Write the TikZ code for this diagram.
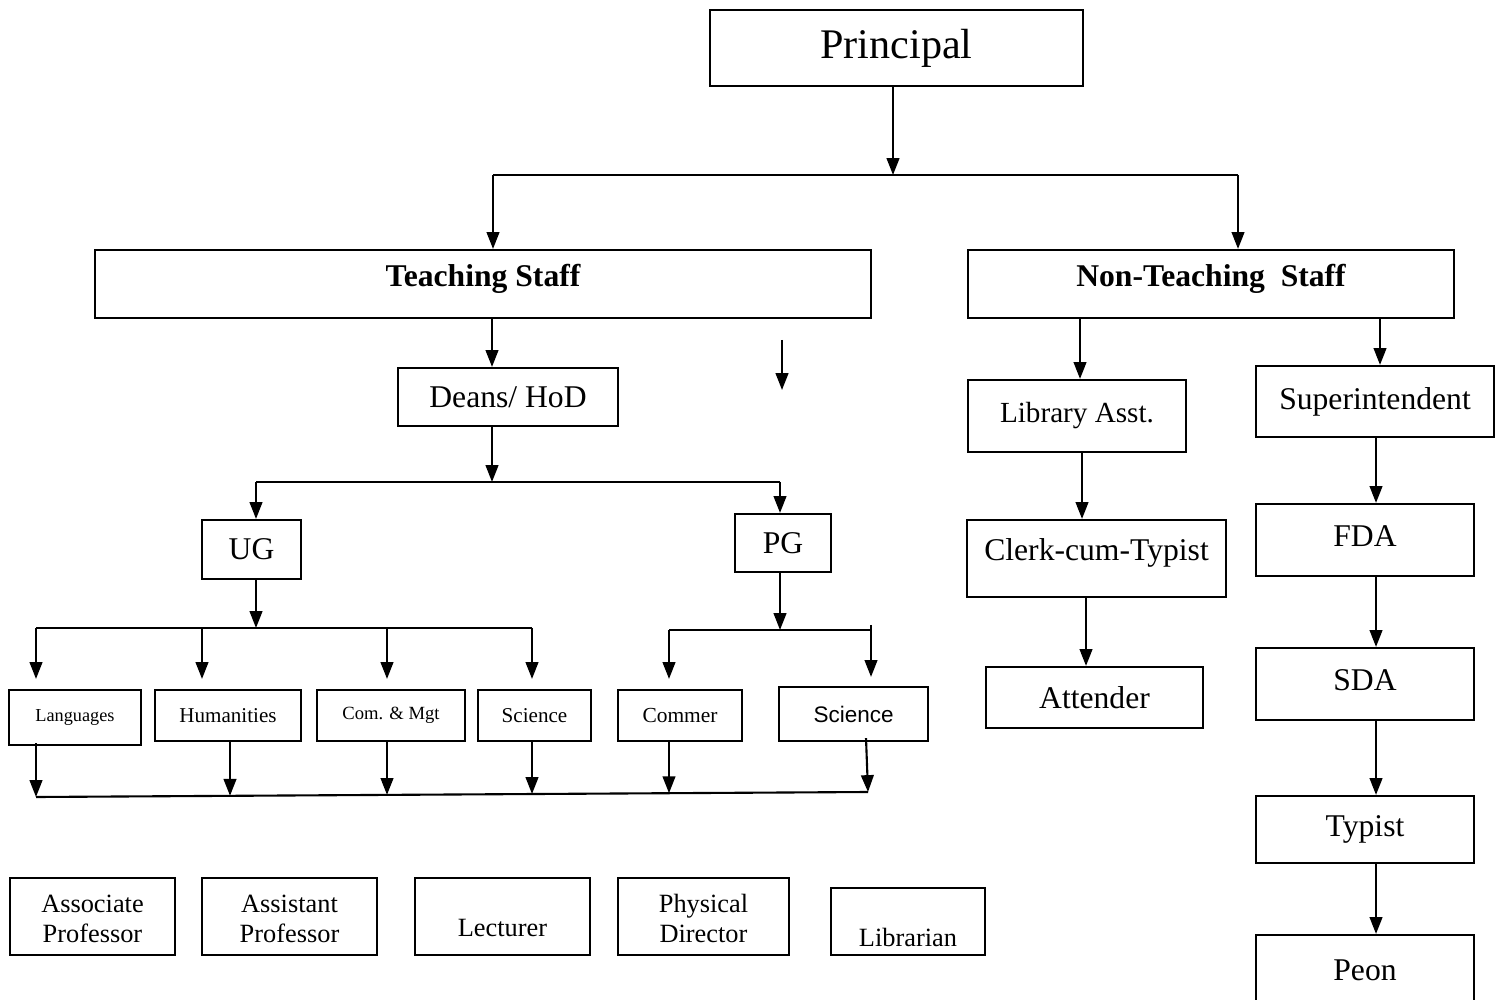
\documentclass[tikz,border=0pt]{standalone}
\usepackage{fontspec}
\setmainfont{Liberation Serif}
\newfontfamily\arialfont{Liberation Sans}
\usetikzlibrary{arrows.meta}

\newcommand{\postlines}[2]{\raisebox{-0.11cm}[0pt][0pt]{\begin{tabular}{@{}c@{}}#1\\#2\end{tabular}}}

\begin{document}
\begin{tikzpicture}[
    box/.style={draw, line width=0.6pt, inner sep=0pt, align=center, font=\fontsize{9}{10.5}\selectfont},
    small/.style={font=\fontsize{7.5}{8.6}\selectfont},
    arr/.style={line width=0.6pt, -{Triangle[width=3.6pt,length=4.8pt]}},
    wire/.style={line width=0.6pt}
  ]
    \useasboundingbox (0,0) rectangle (15.05,-10);

    % Head of the college
    \node[box, minimum width=3.73cm, minimum height=0.76cm, font=\fontsize{12}{14}\selectfont] (principal) at (8.965,-0.48) {Principal};

    % Two staff groups
    \node[box, minimum width=7.76cm, minimum height=0.68cm, font=\fontsize{9}{10.5}\selectfont\bfseries] (teach) at (4.83,-2.84) {\raisebox{-0.03cm}[0pt][0pt]{Teaching Staff}};
    \node[box, minimum width=4.86cm, minimum height=0.68cm, font=\fontsize{9}{10.5}\selectfont\bfseries] (nonteach) at (12.11,-2.84) {\raisebox{-0.03cm}[0pt][0pt]{Non-Teaching\ \ Staff}};

    % Teaching side
    \node[box, minimum width=2.20cm, minimum height=0.58cm] (deans) at (5.08,-3.97) {Deans/ HoD};
    \node[box, minimum width=0.99cm, minimum height=0.59cm] (ug) at (2.515,-5.495) {UG};
    \node[box, minimum width=0.96cm, minimum height=0.58cm] (pg) at (7.83,-5.43) {PG};

    % Departments
    \node[box, minimum width=1.32cm, minimum height=0.55cm, font=\fontsize{5.2}{6}\selectfont] (lang) at (0.75,-7.175) {Languages};
    \node[box, minimum width=1.46cm, minimum height=0.51cm, font=\fontsize{6}{7}\selectfont] (hum) at (2.28,-7.155) {Humanities};
    \node[box, minimum width=1.48cm, minimum height=0.51cm, font=\fontsize{5.3}{6}\selectfont] (com) at (3.91,-7.155) {Com. \& Mgt};
    \node[box, minimum width=1.13cm, minimum height=0.51cm, font=\fontsize{6}{7}\selectfont] (sciug) at (5.345,-7.155) {Science};
    \node[box, minimum width=1.24cm, minimum height=0.51cm, font=\fontsize{6.1}{7}\selectfont] (commer) at (6.80,-7.155) {Commer};
    \node[box, minimum width=1.49cm, minimum height=0.54cm, font=\fontsize{6.4}{7.5}\arialfont] (scipg) at (8.535,-7.14) {Science};

    % Teaching posts
    \node[box, small, minimum width=1.65cm, minimum height=0.77cm] (assoc) at (0.925,-9.165) {\postlines{Associate}{Professor}};
    \node[box, small, minimum width=1.75cm, minimum height=0.77cm] (assist) at (2.895,-9.165) {\postlines{Assistant}{Professor}};
    \node[box, small, minimum width=1.75cm, minimum height=0.77cm] (lect) at (5.025,-9.165) {\raisebox{-0.2cm}[0pt][0pt]{Lecturer}};
    \node[box, small, minimum width=1.71cm, minimum height=0.77cm] (phys) at (7.035,-9.165) {\postlines{Physical}{Director}};
    \node[box, small, minimum width=1.54cm, minimum height=0.67cm] (libr) at (9.08,-9.215) {\raisebox{-0.25cm}[0pt][0pt]{Librarian}};

    % Non-teaching side
    \node[box, minimum width=2.18cm, minimum height=0.72cm, font=\fontsize{8.3}{10}\selectfont] (libasst) at (10.77,-4.16) {Library Asst.};
    \node[box, minimum width=2.59cm, minimum height=0.77cm] (clerk) at (10.965,-5.585) {\raisebox{-0.02cm}[0pt][0pt]{Clerk-cum-Typist}};
    \node[box, minimum width=2.17cm, minimum height=0.61cm] (attend) at (10.945,-6.975) {Attender};
    \node[box, minimum width=2.38cm, minimum height=0.71cm] (super) at (13.75,-4.015) {Superintendent};
    \node[box, minimum width=2.18cm, minimum height=0.72cm] (fda) at (13.65,-5.40) {\raisebox{0.5ex}{FDA}};
    \node[box, minimum width=2.18cm, minimum height=0.72cm] (sda) at (13.65,-6.84) {\raisebox{0.5ex}{SDA}};
    \node[box, minimum width=2.18cm, minimum height=0.67cm] (typist) at (13.65,-8.295) {Typist};
    \node[box, minimum width=2.18cm, minimum height=0.70cm] (peon) at (13.65,-9.70) {Peon};

    % Junction points
    \coordinate (tj) at (8.93,-1.75);
    \coordinate (t1) at (4.93,-1.75);
    \coordinate (t2) at (12.38,-1.75);
    \coordinate (dx) at (4.92,0);
    \coordinate (dj) at (4.92,-4.82);
    \coordinate (d1) at (2.56,-4.82);
    \coordinate (d2) at (7.80,-4.82);
    \coordinate (uj) at (2.56,-6.28);
    \coordinate (pj) at (7.80,-6.30);
    \coordinate (p1) at (6.69,-6.30);
    \coordinate (p2) at (8.71,-6.30);
    \coordinate (s1) at (7.82,-3.40);
    \coordinate (s2) at (7.82,-3.90);

    % Principal to staff groups
    \draw[arr] (principal.south -| tj) -- (tj);
    \draw[wire] (t1) -- (t2);
    \draw[arr] (t1) -- (teach.north -| t1);
    \draw[arr] (t2) -- (nonteach.north -| t2);

    % Teaching staff to UG and PG
    \draw[arr] (teach.south -| dx) -- (deans.north -| dx);
    \draw[arr] (s1) -- (s2);
    \draw[arr] (deans.south -| dj) -- (dj);
    \draw[wire] (d1) -- (d2);
    \draw[arr] (d1) -- (ug.north -| d1);
    \draw[arr] (d2) -- (pg.north -| d2);

    % UG departments
    \draw[arr] (ug.south -| uj) -- (uj);
    \draw[wire] (0.36,-6.28) coordinate (u1) -- (5.32,-6.28) coordinate (u4);
    \foreach \x/\dept in {0.36/lang, 2.02/hum, 3.87/com, 5.32/sciug} {
        \draw[arr, shorten >=1mm] (\x,-6.28) -- (\dept.north -| \x,0);
    }

    % PG departments
    \draw[arr] (pg.south -| pj) -- (pj);
    \draw[wire] (p1) -- (p2);
    \draw[arr, shorten >=1mm] (p1) -- (commer.north -| p1);
    \draw[arr, shorten >=0.9mm] ([yshift=0.05cm]p2) -- (scipg.north -| p2);

    % Departments to the common line
    \coordinate (b1) at (0.36,-7.97);
    \coordinate (b2) at (2.30,-7.958);
    \coordinate (b3) at (3.87,-7.949);
    \coordinate (b4) at (5.32,-7.94);
    \coordinate (b5) at (6.69,-7.932);
    \coordinate (b6) at (8.68,-7.92);
    \draw[wire] (b1) -- (b6);
    \draw[arr] ([yshift=0.03cm]lang.south -| b1) -- (b1);
    \draw[arr] (hum.south -| b2) -- (b2);
    \draw[arr] (com.south -| b3) -- (b3);
    \draw[arr] (sciug.south -| b4) -- (b4);
    \draw[arr] (commer.south -| b5) -- (b5);
    \draw[arr] ([yshift=0.04cm]scipg.south -| 8.66,0) -- (b6);

    % Non-teaching chains
    \draw[arr] (nonteach.south -| 10.80,0) -- (libasst.north -| 10.80,0);
    \draw[arr] (libasst.south -| 10.82,0) -- (clerk.north -| 10.82,0);
    \draw[arr] (clerk.south -| 10.86,0) -- (attend.north -| 10.86,0);
    \draw[arr] (nonteach.south -| 13.80,0) -- (super.north -| 13.80,0);
    \draw[arr] (super.south -| 13.76,0) -- (fda.north -| 13.76,0);
    \draw[arr] (fda.south -| 13.76,0) -- (sda.north -| 13.76,0);
    \draw[arr] (sda.south -| 13.76,0) -- (typist.north -| 13.76,0);
    \draw[arr] (typist.south -| 13.76,0) -- (peon.north -| 13.76,0);
\end{tikzpicture}
\end{document}
